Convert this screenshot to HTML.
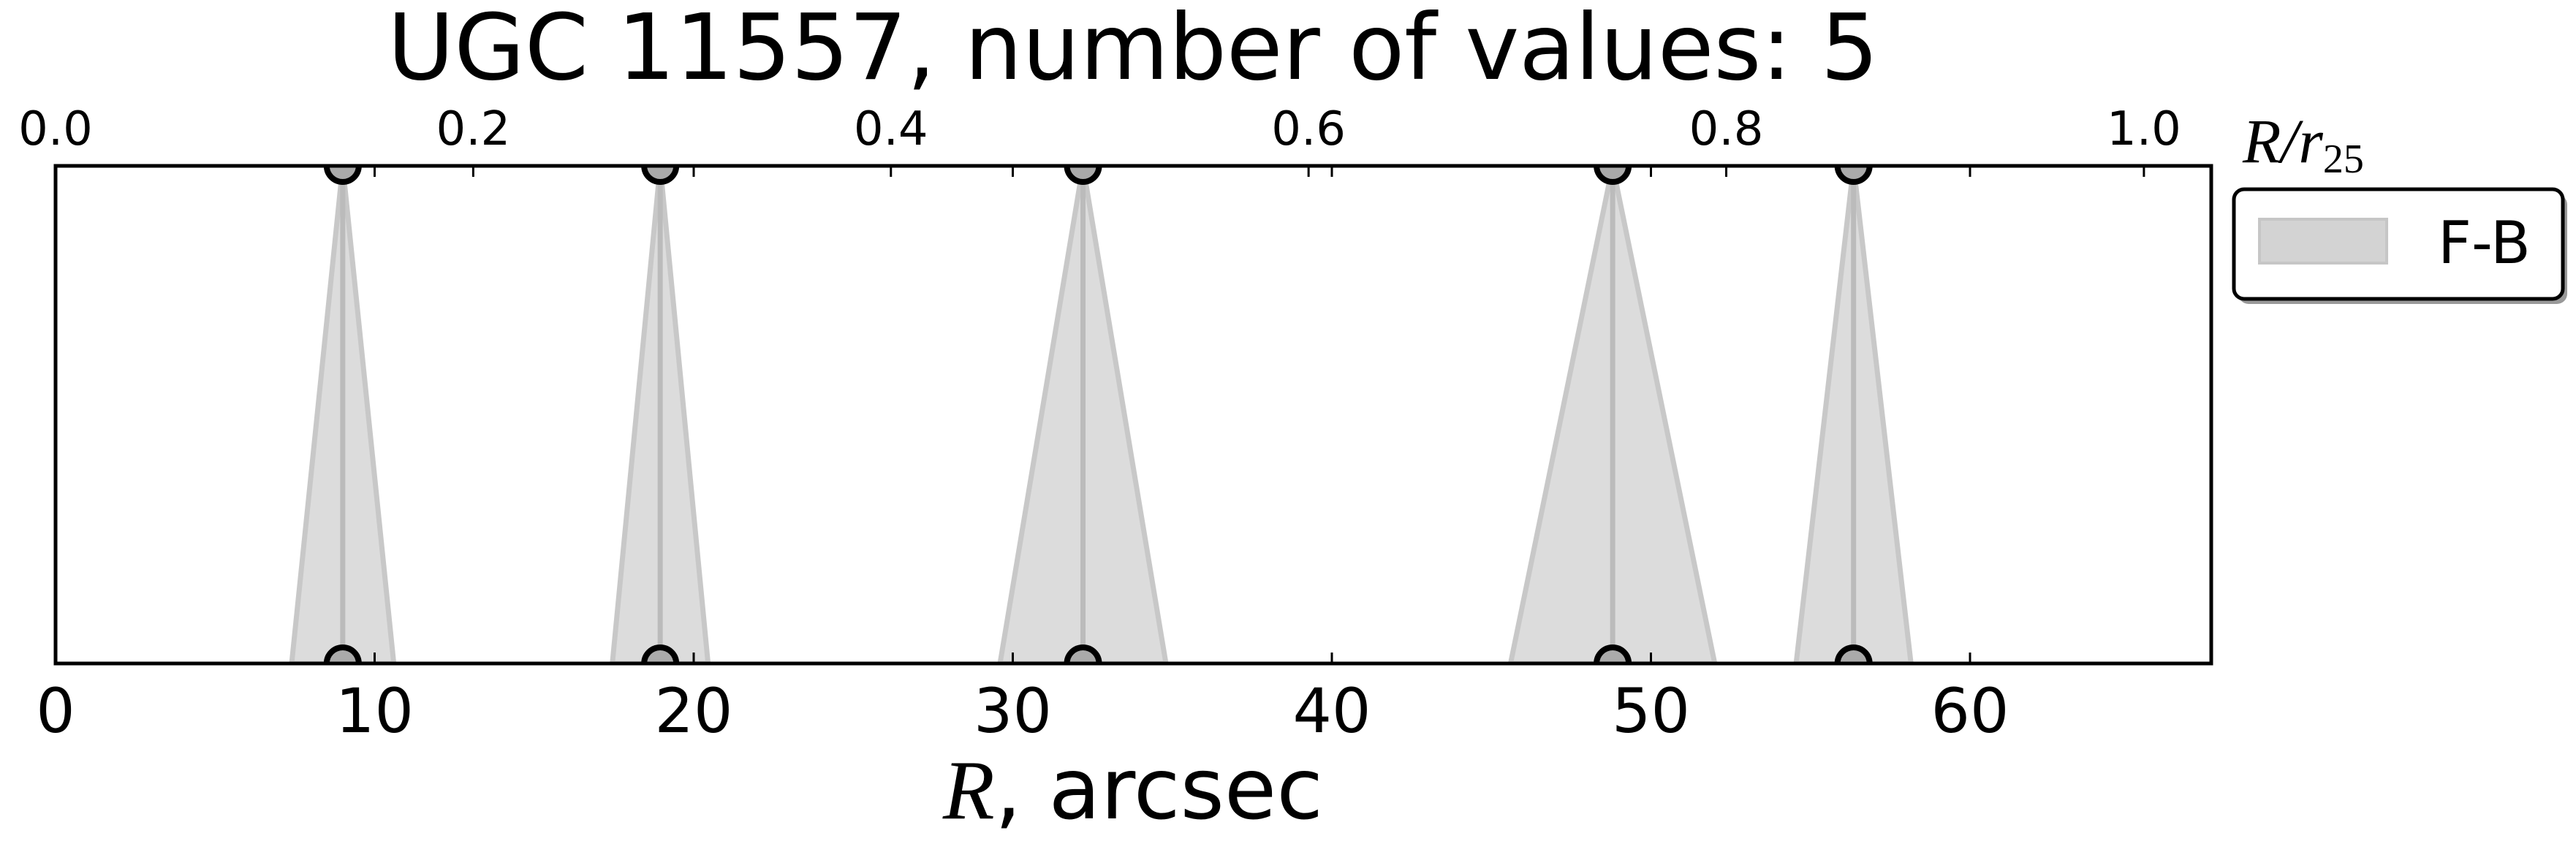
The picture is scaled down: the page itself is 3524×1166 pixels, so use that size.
<!DOCTYPE html>
<html><head><meta charset="utf-8"><style>
html,body{margin:0;padding:0;background:#fff;}
svg{display:block;font-family:"DejaVu Sans","Liberation Sans",sans-serif;}
</style></head><body>
<svg id="chart" width="3524" height="1166" viewBox="0 0 3524 1166" xmlns="http://www.w3.org/2000/svg">
<defs><clipPath id="clip"><rect x="76" y="227" width="2949" height="681"/></clipPath></defs>
<text x="1550" y="108" font-size="125" text-anchor="middle" textLength="2040">UGC 11557, number of values: 5</text>
<g id="series" clip-path="url(#clip)"></g>
<rect x="76" y="227" width="2949" height="681" fill="none" stroke="#000" stroke-width="5"/>
<g id="ticks"></g>
<text x="1550" y="1120" font-size="116" text-anchor="middle"><tspan font-family="Liberation Serif, serif" font-style="italic">R</tspan>, arcsec</text>
<text x="3068" y="222" font-size="86" font-family="Liberation Serif, serif" font-style="italic">R/r<tspan font-size="56" dy="14" font-style="normal">25</tspan></text>
<g>
<rect x="3062" y="266" width="450" height="150" rx="14" fill="#999"/>
<rect x="3056" y="259" width="450" height="150" rx="14" fill="#fff" stroke="#000" stroke-width="5"/>
<rect x="3091" y="300" width="174" height="60" fill="#d3d3d3" stroke="#c6c6c6" stroke-width="4"/>
<text x="3335" y="360" font-size="80">F-B</text>
</g>
</svg>
<script>
const radii = [9.0, 18.95, 32.2, 48.8, 56.35];
const errors = [1.6, 1.5, 2.6, 3.2, 1.8];
const bottomTicks = [0, 10, 20, 30, 40, 50, 60];
const topTicks = [0.0, 0.2, 0.4, 0.6, 0.8, 1.0];
const r25 = 65.45;
const X0 = 76, X1 = 3025, Y0 = 227, Y1 = 908, XMAX = 67.56;
const NS = 'http://www.w3.org/2000/svg';
function sx(v){ return X0 + v/XMAX*(X1-X0); }
function mk(tag, attrs, parent){ const e=document.createElementNS(NS,tag); for(const k in attrs) e.setAttribute(k, attrs[k]); parent.appendChild(e); return e; }
const g = document.getElementById('series');
radii.forEach((r,i)=>{
  const p = mk('polygon',{points:`${sx(r)},${Y0} ${sx(r-errors[i])},${Y1} ${sx(r+errors[i])},${Y1}`, fill:'#dcdcdc', stroke:'#c8c8c8', 'stroke-width':7}, g);
  
  
  const l = mk('line',{x1:sx(r),x2:sx(r),y1:Y0,y2:Y1,stroke:'#bbb','stroke-width':7}, g);
  
  
  [Y0, Y1].forEach(y=>{
    const c = mk('circle',{cx:sx(r),cy:y,r:22,fill:'#aaa',stroke:'#000','stroke-width':8}, g);
    
    
  });
});
const t = document.getElementById('ticks');
bottomTicks.forEach(v=>{
  const x = sx(v);
  mk('line',{x1:x,x2:x,y1:Y1,y2:Y1-15,stroke:'#000','stroke-width':3},t);
  mk('line',{x1:x,x2:x,y1:Y0,y2:Y0+15,stroke:'#000','stroke-width':3},t);
  const tx = mk('text',{x:x,y:1002,'font-size':84,'text-anchor':'middle'},t);
  tx.textContent = v;
  
  
});
topTicks.forEach(v=>{
  const x = sx(v*r25);
  mk('line',{x1:x,x2:x,y1:Y0,y2:Y0+15,stroke:'#000','stroke-width':3},t);
  const tx = mk('text',{x:x,y:198,'font-size':64,'text-anchor':'middle'},t);
  tx.textContent = v.toFixed(1);
  
  
});
</script>
</body></html>
